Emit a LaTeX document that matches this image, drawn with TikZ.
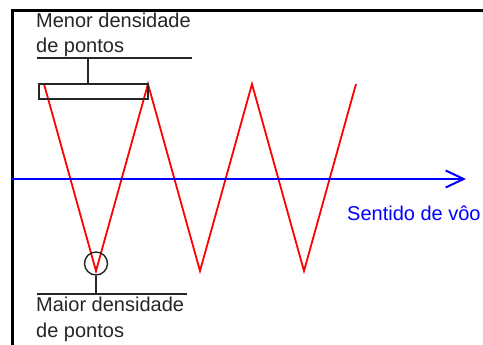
\documentclass[tikz,border=0pt]{standalone}
\usepackage{fontspec}
\setmainfont{Liberation Sans}
\usetikzlibrary{arrows.meta, positioning}
\definecolor{trackred}{rgb}{1.0, 0.0, 0.0}
\definecolor{flightblue}{rgb}{0.0, 0.0, 1.0}
\definecolor{textgray}{rgb}{0.15, 0.15, 0.15}

\begin{document}
\begin{tikzpicture}[
				x=1pt, y=-1pt,
				lbl/.style={align=left, inner sep=0pt, anchor=north west, text=textgray, font=\fontsize{20}{25.5}\selectfont},
				track/.style={trackred, line width=1.8pt, line join=miter},
				leader/.style={textgray, line width=1.4pt},
				flight/.style={flightblue, line width=2pt, -{Straight Barb[length=18pt, width=17pt, line width=2pt]}}
			]
			\useasboundingbox (0,0) rectangle (483,345);
			\draw[line width=3pt] (483,10.5) -- (12,10.5) -- (12,345);
			% zigzag of the scan
			\draw[track] (44,84) -- (96,271) -- (148,84) -- (200,271) -- (252,84) -- (304,271) -- (356,84);
			% flight direction
			\coordinate (start) at (12,179);
			\coordinate (tip) at (466,179);
			\draw[flight] (start) -- (tip);
			\node[lbl, anchor=west, text=flightblue] (sentido) at (347,213) {Sentido de vôo};
			% upper label
			\node[lbl] (menor) at (36,12.5) {Menor densidade\\de pontos};
			\node[draw=textgray, line width=1.4pt, minimum width=109pt, minimum height=15pt, inner sep=0pt] (faixa) at (93.5,91.5) {};
			\coordinate (ml) at (37,58);
			\coordinate (mr) at (192,58);
			\coordinate (mt) at (88,58);
			\draw[leader] (ml) -- (mr);
			\draw[leader] (mt) -- (mt |- faixa.north);
			% lower label
			\node[draw=textgray, line width=1.4pt, circle, minimum size=23pt, inner sep=0pt] (ponto) at (96,263.5) {};
			\coordinate (bl) at (37,294);
			\coordinate (br) at (187,294);
			\draw[leader] (bl) -- (br);
			\draw[leader] (ponto.south) -- (ponto.south |- bl);
			\node[lbl] (maior) at (36,297) {Maior densidade\\de pontos};
		\end{tikzpicture}
\end{document}
